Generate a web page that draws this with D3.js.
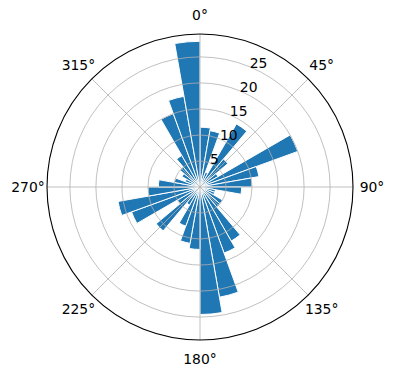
<!DOCTYPE html>
<html>
<head>
<meta charset="utf-8">
<script src="https://cdn.jsdelivr.net/npm/d3@7"></script>
<style>
  body { margin: 0; background: #fff; }
  text { font-family: "DejaVu Sans", sans-serif; fill: #000; }
</style>
</head>
<body>
<div id="chart"></div>
<script>
// bin start angles (degrees, clockwise from north) and bar heights
const binStarts = [0, 10, 20, 30, 40, 50, 60, 70, 80, 90, 100, 110,
                   120, 130, 140, 150, 160, 170, 180, 190, 200, 210, 220, 230,
                   240, 250, 260, 270, 280, 290, 300, 310, 320, 330, 340, 350];
const counts = [11.5, 11, 3, 14, 7, 4, 20, 11.5, 10, 8, 3, 3,
                5, 5, 12, 13.5, 21.5, 24.5, 12, 11, 8, 4, 11, 5,
                14, 16, 10, 8, 5, 3, 4, 5, 7, 15, 17.7, 28];
const binWidth = 10;
const rTicks = [5, 10, 15, 20, 25];
const thetaTicks = [0, 45, 90, 135, 180, 225, 270, 315];
const rMax = 29.4;

const W = 396, H = 380;
const cx = 200, cy = 187, R = 153;

const svg = d3.select("#chart").append("svg")
    .attr("width", W).attr("height", H);

const g = svg.append("g").attr("transform", `translate(${cx},${cy})`);

const r = d3.scaleLinear().domain([0, rMax]).range([0, R]);
const rad = d => d * Math.PI / 180;

// bars
const arc = d3.arc()
    .innerRadius(0)
    .outerRadius(d => r(d.v))
    .startAngle(d => rad(d.a))
    .endAngle(d => rad(d.a + binWidth));

g.selectAll(".bar")
    .data(binStarts.map((a, i) => ({a, v: counts[i]})))
    .enter().append("path")
        .attr("class", "bar")
        .attr("d", arc)
        .attr("fill", "#1f77b4")
        .attr("stroke", "#fff")
        .attr("stroke-width", 1)
        .attr("stroke-linejoin", "miter");

// grid circles (drawn above the bars, like matplotlib)
g.selectAll(".ring")
    .data(rTicks)
    .enter().append("circle")
        .attr("r", d => r(d))
        .attr("fill", "none")
        .attr("stroke", "#b0b0b0")
        .attr("stroke-width", 0.8);

// spokes
g.selectAll(".spoke")
    .data(thetaTicks)
    .enter().append("line")
        .attr("x1", 0).attr("y1", 0)
        .attr("x2", d => R * Math.sin(rad(d)))
        .attr("y2", d => -R * Math.cos(rad(d)))
        .attr("stroke", "#b0b0b0")
        .attr("stroke-width", 0.8);

// outer frame
g.append("circle")
    .attr("r", R)
    .attr("fill", "none")
    .attr("stroke", "#000")
    .attr("stroke-width", 1.1);

// theta labels
g.selectAll(".tlabel")
    .data(thetaTicks)
    .enter().append("text")
        .attr("x", d => (R + 19) * Math.sin(rad(d)))
        .attr("y", d => -(R + 19) * Math.cos(rad(d)))
        .attr("text-anchor", "middle")
        .attr("dominant-baseline", "central")
        .style("font-size", "13.9px")
        .text(d => d + "°");

// radial labels at 22.5°
g.selectAll(".rlabel")
    .data(rTicks)
    .enter().append("text")
        .attr("x", d => r(d) * Math.sin(rad(22.5)))
        .attr("y", d => -r(d) * Math.cos(rad(22.5)))
        .attr("text-anchor", "start")
        .attr("dy", "0.05em")
        .style("font-size", "13.9px")
        .text(d => d);
</script>
</body>
</html>
